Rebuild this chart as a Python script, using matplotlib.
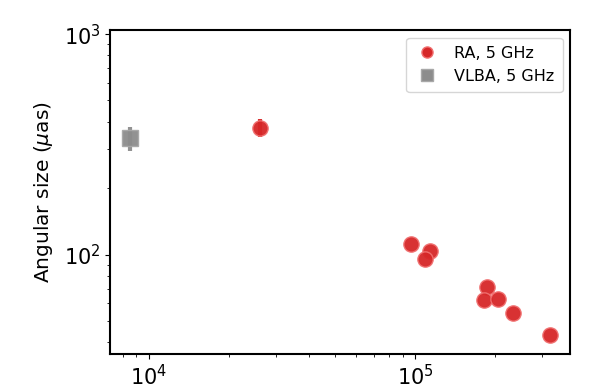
import matplotlib
matplotlib.use("Agg")
import matplotlib.pyplot as plt

ra_x = [26200, 96700, 114000, 109000, 187000, 182000, 205000, 234000, 321000]
ra_y = [376, 111.8, 104.3, 95.2, 71.4, 61.9, 62.8, 54.2, 43.3]
ra_err = [35, 0, 0, 0, 0, 0, 0, 0, 0]

vlba_x = [8500]
vlba_y = [338]
vlba_err = [42]

fig = plt.figure(figsize=(5.98, 3.91), dpi=100)
ax = fig.add_axes([0.184, 0.094, 0.770, 0.829])

ax.errorbar(ra_x, ra_y, yerr=ra_err, fmt='o', color='#d62728', ms=11,
            mfc='#d62728', mec='#f07070', mew=1.0, elinewidth=3, capsize=0,
            alpha=0.95, zorder=3)
ax.errorbar(vlba_x, vlba_y, yerr=vlba_err, fmt='s', color='#8c8c8c', ms=11,
            mfc='#8c8c8c', mec='#a8a8a8', mew=1.0, elinewidth=3, capsize=0,
            alpha=0.95, zorder=3)
# legend proxies (markers only)
ax.plot([], [], 'o', color='#d62728', mec='#f07070', ms=8, label='RA, 5 GHz')
ax.plot([], [], 's', color='#8c8c8c', mec='#a8a8a8', ms=8, label='VLBA, 5 GHz')

ax.set_xscale('log')
ax.set_yscale('log')
ax.set_xlim(7160, 384000)
ax.set_ylim(35.3, 1043)
ax.set_ylabel(r'Angular size ($\mu$as)', fontsize=14.5, labelpad=6)
ax.tick_params(labelsize=15)
for s in ax.spines.values():
    s.set_linewidth(1.5)
ax.legend(loc='upper right', fontsize=11.5, handletextpad=0.9,
          borderpad=0.5, handlelength=1.6)

fig.savefig('out.png', dpi=100)
